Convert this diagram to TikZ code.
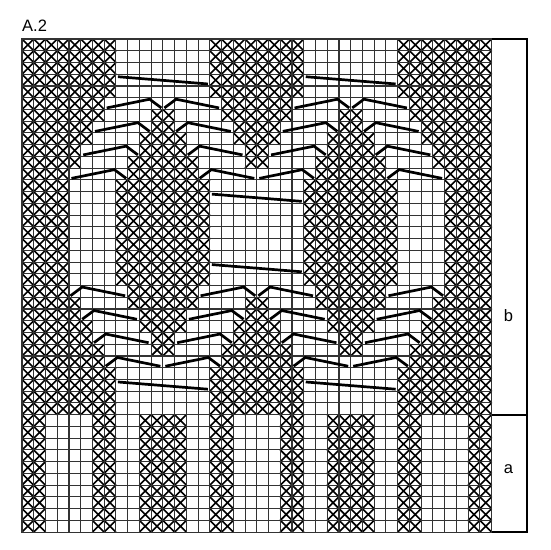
\documentclass[tikz,border=0pt]{standalone}
\usepackage{fontspec}
\setmainfont{Liberation Sans}
\def\cs{11.74}
\def\gx{22}
\def\gy{39}
\newcommand\xrow[2]{\foreach \a/\b in {#2}{\foreach \c in {\a,...,\b}{%
  \draw[xmark] ({\gx+\c*\cs},{\gy+#1*\cs}) -- ++(\cs,\cs)
               ({\gx+(\c+1)*\cs},{\gy+#1*\cs}) -- ++(-\cs,\cs);}}}
\newcommand\cabfull[2]{\draw[cab] ({\gx+#2*\cs+2},{\gy+#1*\cs+2.5}) -- ({\gx+(#2+8)*\cs-2},{\gy+(#1+1)*\cs-2});}
\newcommand\cabL[2]{\draw[cab] ({\gx+#2*\cs+2.5},{\gy+(#1+1)*\cs-1.5}) -- ({\gx+(#2+4)*\cs-1.5},{\gy+#1*\cs+1.5}) -- ({\gx+(#2+5)*\cs-1.5},{\gy+(#1+1)*\cs-1.5});}
\newcommand\cabR[2]{\draw[cab] ({\gx+#2*\cs+1.5},{\gy+(#1+1)*\cs-1.5}) -- ({\gx+(#2+1)*\cs+1.5},{\gy+#1*\cs+1.5}) -- ({\gx+(#2+5)*\cs-2.5},{\gy+(#1+1)*\cs-1.5});}
\begin{document}
\begin{tikzpicture}[x=1pt,y=-1pt,
  xmark/.style={black,line width=1.6pt},
  gridline/.style={black!80,line width=1.1pt},
  cab/.style={black,line width=2.7pt},
  boxline/.style={black,line width=1.8pt},
  lbl/.style={font=\fontsize{16.5}{19}\selectfont,inner sep=0pt}]
\useasboundingbox (0,0) rectangle (550,550);
\fill[white] (0,0) rectangle (550,550);
% X cells, section b
\foreach \r in {0,1,2,3,4,28,29,30,31}{\xrow{\r}{0/7,16/23,32/39}}
\foreach \r in {5,27}{\xrow{\r}{0/6,17/22,33/39}}
\foreach \r in {6,26}{\xrow{\r}{0/6,11/12,17/22,27/28,33/39}}
\foreach \r in {7,25}{\xrow{\r}{0/5,11/12,18/21,27/28,34/39}}
\foreach \r in {8,24}{\xrow{\r}{0/5,10/13,18/21,26/29,34/39}}
\foreach \r in {9,23}{\xrow{\r}{0/4,10/13,19/20,26/29,35/39}}
\foreach \r in {10,22}{\xrow{\r}{0/4,9/14,19/20,25/30,35/39}}
\foreach \r in {11,21}{\xrow{\r}{0/3,9/14,25/30,36/39}}
\foreach \r in {12,...,20}{\xrow{\r}{0/3,8/15,24/31,36/39}}
% section a
\foreach \r in {32,...,41}{\xrow{\r}{0/1,6/7,10/13,16/17,22/23,26/29,32/33,38/39}}
% grid
\foreach \i in {0,...,40}{\draw[gridline] ({\gx+\i*\cs},\gy) -- ++(0,{42*\cs});}
\foreach \j in {0,...,42}{\draw[gridline] (\gx,{\gy+\j*\cs}) -- ++({40*\cs},0);}
% cables
\cabfull{3}{8}\cabfull{3}{24}
\cabfull{29}{8}\cabfull{29}{24}
\cabfull{13}{16}\cabfull{19}{16}
\cabL{5}{7}\cabR{5}{12}\cabL{5}{23}\cabR{5}{28}
\cabL{7}{6}\cabR{7}{13}\cabL{7}{22}\cabR{7}{29}
\cabL{9}{5}\cabR{9}{14}\cabL{9}{21}\cabR{9}{30}
\cabL{11}{4}\cabR{11}{15}\cabL{11}{20}\cabR{11}{31}
\cabR{21}{4}\cabL{21}{15}\cabR{21}{20}\cabL{21}{31}
\cabR{23}{5}\cabL{23}{14}\cabR{23}{21}\cabL{23}{30}
\cabR{25}{6}\cabL{25}{13}\cabR{25}{22}\cabL{25}{29}
\cabR{27}{7}\cabL{27}{12}\cabR{27}{23}\cabL{27}{28}
% label column
\coordinate (bt) at ({\gx+40*\cs},\gy);
\coordinate (bm) at ({\gx+40*\cs},{\gy+32*\cs});
\coordinate (bb) at ({\gx+40*\cs},{\gy+42*\cs});
\draw[boxline] (bt) -- ++(35,0) -- ++(0,{42*\cs}) -- (bb);
\draw[boxline] (bm) -- ++(35,0);
\draw[gridline] (\gx,\gy) rectangle (bb);
\node[lbl,anchor=base west] (title) at (22,31) {A.2};
\node[lbl,anchor=base] (lb) at (508.5,321.5) {b};
\node[lbl,anchor=base] (la) at (508.5,473.5) {a};
\end{tikzpicture}
\end{document}
